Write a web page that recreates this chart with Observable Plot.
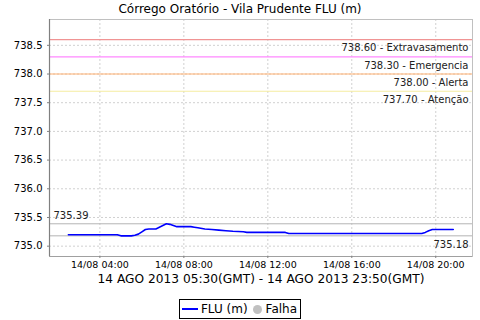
<!DOCTYPE html>
<html>
<head>
<meta charset="utf-8">
<script src="https://cdn.jsdelivr.net/npm/d3@7"></script>
<script src="https://cdn.jsdelivr.net/npm/@observablehq/plot@0.6"></script>
<style>
  html, body { margin: 0; padding: 0; background: #fff; width: 480px; height: 320px; overflow: hidden; }
  body { font-family: "DejaVu Sans", sans-serif; color: #000; }
  #title { height: 18px; line-height: 19px; text-align: center; font-size: 12px; }
  #chart svg { display: block; }
  #legend { display: flex; justify-content: center; margin-top: 10px; }
  #legend .box { border: 1px solid #000; display: inline-flex; align-items: center; font-size: 12px; height: 18px; padding: 0 3px 0 1px; }
  #legend .line { display: inline-block; width: 16px; height: 2px; background: #0000ff; margin: 0 3px 0 1px; }
  #legend .dot { display: inline-block; width: 9px; height: 9px; border-radius: 50%; background: #c0c0c0; margin: 0 4px 0 5px; }
</style>
</head>
<body>
<div id="title">Córrego Oratório - Vila Prudente FLU (m)</div>
<div id="chart"></div>
<div id="legend"><div class="box"><span class="line"></span>FLU (m)<span class="dot"></span>Falha</div></div>
<script>
// ---- data ----
const chartTitle = "Córrego Oratório - Vila Prudente FLU (m)";
const xAxisLabel = "14 AGO 2013 05:30(GMT) - 14 AGO 2013 23:50(GMT)";
const seriesName = "FLU (m)";
const times = ["02:30","04:50","05:00","05:30","05:40","05:50","06:00","06:10","06:20","06:40","06:50","07:00","07:10","07:20","07:30","07:40","08:20","08:30","08:40","09:00","09:20","09:40","10:00","10:20","10:50","11:00","12:50","13:00","19:20","19:30","19:40","19:50","20:50"];
const values = [735.20,735.20,735.18,735.18,735.19,735.21,735.25,735.29,735.30,735.30,735.33,735.36,735.39,735.38,735.36,735.34,735.34,735.33,735.32,735.30,735.29,735.28,735.27,735.26,735.25,735.24,735.24,735.22,735.22,735.24,735.27,735.29,735.29];
const thresholdValues = [738.60, 738.30, 738.00, 737.70];
const thresholdNames = ["Extravasamento", "Emergencia", "Alerta", "Atenção"];
const yTicks = [735.0, 735.5, 736.0, 736.5, 737.0, 737.5, 738.0, 738.5];
const xTickTimes = ["04:00","08:00","12:00","16:00","20:00"];
const xDomainTimes = ["01:36","21:45"];
const yDomain = [734.82, 738.95];

// ---- styles ----
const thresholdColors = ["#f09494", "#ff88ff", "#ffb070", "#f5eca0"];

const toDate = s => { const [h, m] = s.split(":").map(Number); return new Date(Date.UTC(2013, 7, 14, h, m)); };
const series = times.map((t, i) => ({t: toDate(t), v: values[i]}));
const thresholds = thresholdValues.map((v, i) => ({v, label: v.toFixed(2) + " - " + thresholdNames[i], color: thresholdColors[i]}));
const xDomain = xDomainTimes.map(toDate);
const vmax = d3.max(values), vmin = d3.min(values);

const plot = Plot.plot({
  width: 480,
  height: 271,
  marginTop: 1,
  marginLeft: 49,
  marginRight: 8,
  marginBottom: 33,
  style: {fontFamily: "DejaVu Sans, sans-serif", fontSize: "10px", background: "#fff"},
  x: {type: "utc", domain: xDomain},
  y: {domain: yDomain},
  marks: [
    Plot.gridY(yTicks, {stroke: "#d0d0d0", strokeOpacity: 1, strokeDasharray: "2,2"}),
    Plot.gridX(xTickTimes.map(toDate), {stroke: "#d0d0d0", strokeOpacity: 1, strokeDasharray: "2,2"}),
    Plot.frame({stroke: "#c0c0c0"}),
    Plot.ruleY(thresholds, {y: "v", stroke: "color", strokeWidth: 1.2}),
    Plot.text(thresholds, {y: "v", text: "label", frameAnchor: "right", textAnchor: "end", dx: -4, dy: 8.5, fontSize: 10, fill: "#222"}),
    Plot.ruleY([vmax, vmin], {stroke: "#b4b4b4", strokeWidth: 1}),
    Plot.text([vmax], {y: d => d, text: d => d.toFixed(2), frameAnchor: "left", textAnchor: "start", dx: 4, dy: -8, fontSize: 10, fill: "#222"}),
    Plot.text([vmin], {y: d => d, text: d => d.toFixed(2), frameAnchor: "right", textAnchor: "end", dx: -4, dy: 8.5, fontSize: 10, fill: "#222"}),
    Plot.line(series, {x: "t", y: "v", stroke: "#0000ff", strokeWidth: 1.6}),
    Plot.ruleX([xDomain[0]], {stroke: "#808080", strokeWidth: 1.2}),
    Plot.ruleY([yDomain[0]], {stroke: "#a0a0a0"}),
    Plot.axisY({ticks: yTicks, tickFormat: d => d.toFixed(1), tickSize: 2, tickPadding: 5, fontSize: 10, label: null, stroke: "#808080"}),
    Plot.axisX({ticks: xTickTimes.map(toDate), tickFormat: d3.utcFormat("%d/%m %H:%M"), tickSize: 2, tickPadding: 3, fontSize: 9.5, label: null, stroke: "#808080"}),
    Plot.text([xAxisLabel], {frameAnchor: "bottom", dy: 26, fontSize: 12.2, fill: "#000"})
  ]
});
document.getElementById("chart").appendChild(plot);
</script>
</body>
</html>
